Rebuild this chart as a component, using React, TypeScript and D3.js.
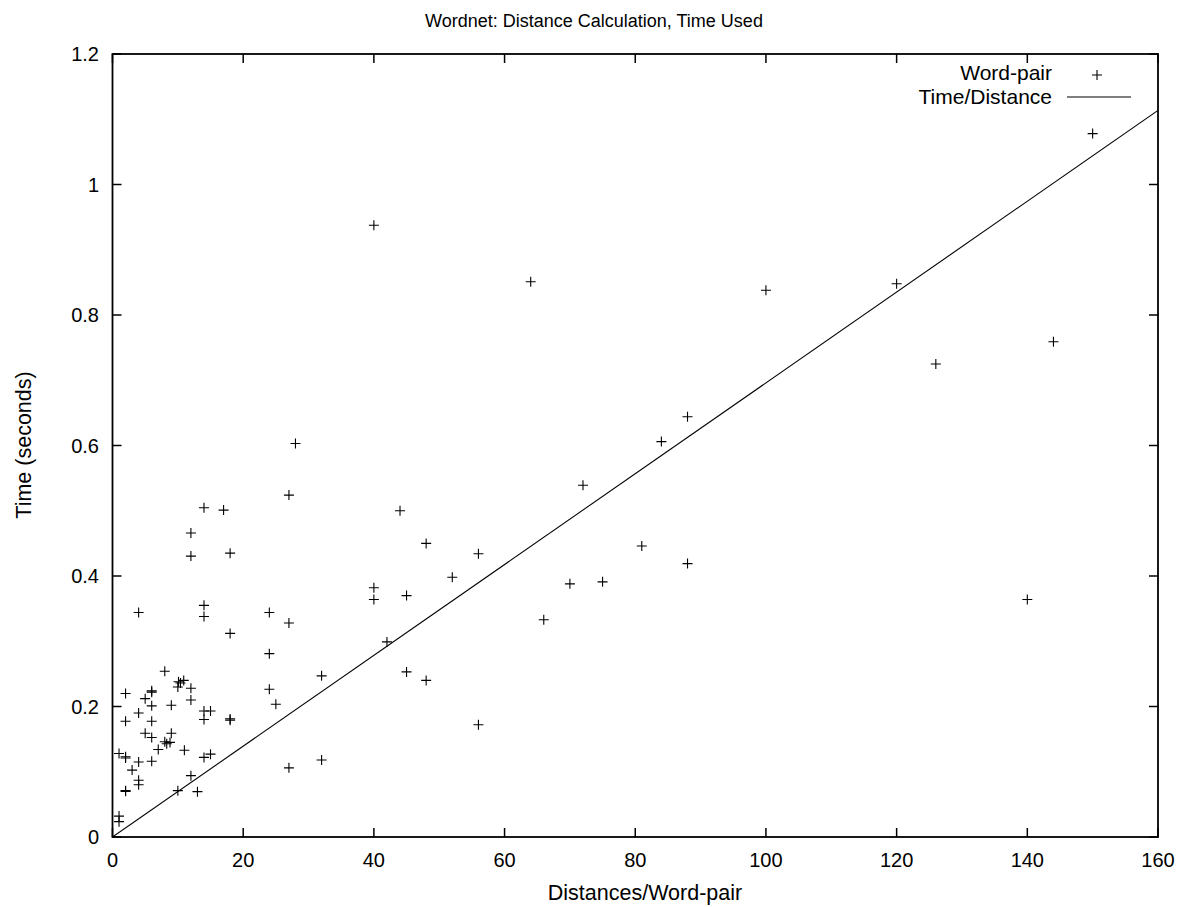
import React from "react";
import * as d3 from "d3";

const distances = [
  8, 10.1, 10.4, 10.9, 10, 12, 2, 6, 6, 5, 12, 6, 9, 4, 14, 15, 14, 18, 18, 2, 6, 5, 6, 9,
  8, 8.3, 8.8, 7, 11, 1, 2, 2, 4, 6, 14, 15, 3, 12, 4, 4, 2, 2, 10, 13, 1, 1,
  28, 27, 14, 17, 12, 12, 18, 4, 14, 14, 24, 27, 18,
  24, 32, 24, 25, 42, 32, 27,
  40, 64, 44, 48, 56, 52, 72, 40, 40, 45, 45, 48, 56, 66, 70, 75, 88, 84, 81, 88,
  100, 120, 126, 144, 150, 140,
];
const times = [
  0.254, 0.238, 0.236, 0.24, 0.23, 0.228, 0.22, 0.224, 0.222, 0.212, 0.21, 0.201, 0.202, 0.19, 0.193, 0.193, 0.18, 0.181, 0.179, 0.1775, 0.1775, 0.159, 0.1525, 0.159,
  0.146, 0.143, 0.145, 0.134, 0.133, 0.128, 0.123, 0.121, 0.115, 0.116, 0.122, 0.127, 0.1025, 0.094, 0.087, 0.08, 0.071, 0.07, 0.071, 0.0695, 0.032, 0.0235,
  0.603, 0.524, 0.5045, 0.501, 0.466, 0.4305, 0.435, 0.344, 0.355, 0.338, 0.344, 0.328, 0.312,
  0.281, 0.247, 0.2265, 0.2035, 0.299, 0.118, 0.106,
  0.9375, 0.851, 0.5, 0.45, 0.434, 0.398, 0.539, 0.382, 0.364, 0.37, 0.253, 0.24, 0.172, 0.333, 0.388, 0.391, 0.644, 0.606, 0.446, 0.419,
  0.838, 0.848, 0.725, 0.759, 1.078, 0.364,
];
const xTicks = [0, 20, 40, 60, 80, 100, 120, 140, 160];
const yTicks = [0, 0.2, 0.4, 0.6, 0.8, 1, 1.2];
const fitSlope = [0.00696];
const titleText = "Wordnet: Distance Calculation, Time Used";
const xLabel = "Distances/Word-pair";
const yLabel = "Time (seconds)";
const legendLabels = ["Word-pair", "Time/Distance"];

const W = 1189;
const H = 907;
const FONT = "'Liberation Sans', Arial, Helvetica, sans-serif";
const FS = 20;

export default function App() {
  const x = d3.scaleLinear().domain([0, 160]).range([112.5, 1158]);
  const y = d3.scaleLinear().domain([0, 1.2]).range([837, 54]);
  const [x0, x1] = x.range();
  const [y0, y1] = y.range();
  const tickLen = 9;
  const m = 5;
  const line = d3
    .line<number>()
    .x((d) => x(d))
    .y((d) => y(d * fitSlope[0]));
  const fitXs = [0, 160];

  return (
    <svg
      width={W}
      height={H}
      style={{ position: "absolute", left: 0, top: 0, background: "#fff" }}
      fontFamily={FONT}
    >
      <rect x={0} y={0} width={W} height={H} fill="#fff" />
      <text x={594} y={27} textAnchor="middle" fontSize={18}>
        {titleText}
      </text>
      {xTicks.map((t) => (
        <g key={"x" + t}>
          <line x1={x(t)} x2={x(t)} y1={y0} y2={y0 - tickLen} stroke="#000" strokeWidth={1.5} />
          <line x1={x(t)} x2={x(t)} y1={y1} y2={y1 + tickLen} stroke="#000" strokeWidth={1.5} />
          <text x={x(t)} y={867} textAnchor="middle" fontSize={FS}>
            {t}
          </text>
        </g>
      ))}
      {yTicks.map((t) => (
        <g key={"y" + t}>
          <line x1={x0} x2={x0 + tickLen} y1={y(t)} y2={y(t)} stroke="#000" strokeWidth={1.5} />
          <line x1={x1} x2={x1 - tickLen} y1={y(t)} y2={y(t)} stroke="#000" strokeWidth={1.5} />
          <text x={99} y={y(t) + 7} textAnchor="end" fontSize={FS}>
            {d3.format("~g")(t)}
          </text>
        </g>
      ))}
      <rect x={x0} y={y1} width={x1 - x0} height={y0 - y1} fill="none" stroke="#000" strokeWidth={1.8} />
      <text x={645} y={900} textAnchor="middle" fontSize={21.5}>
        {xLabel}
      </text>
      <text transform={`translate(31,445) rotate(-90)`} textAnchor="middle" fontSize={21.5}>
        {yLabel}
      </text>
      <clipPath id="plot">
        <rect x={x0} y={y1} width={x1 - x0} height={y0 - y1} />
      </clipPath>
      <path d={line(fitXs) || ""} stroke="#000" strokeWidth={1.1} fill="none" clipPath="url(#plot)" />
      {distances.map((d, i) => (
        <path
          key={i}
          d={`M${x(d) - m},${y(times[i])}H${x(d) + m}M${x(d)},${y(times[i]) - m}V${y(times[i]) + m}`}
          stroke="#000"
          strokeWidth={1.1}
          fill="none"
        />
      ))}
      <text x={1052} y={80} textAnchor="end" fontSize={21}>
        {legendLabels[0]}
      </text>
      <path d={`M${1097 - m},75H${1097 + m}M1097,${75 - m}V${75 + m}`} stroke="#000" strokeWidth={1.1} />
      <text x={1052} y={104} textAnchor="end" fontSize={21}>
        {legendLabels[1]}
      </text>
      <line x1={1067} x2={1131} y1={97} y2={97} stroke="#000" strokeWidth={1.1} />
    </svg>
  );
}
